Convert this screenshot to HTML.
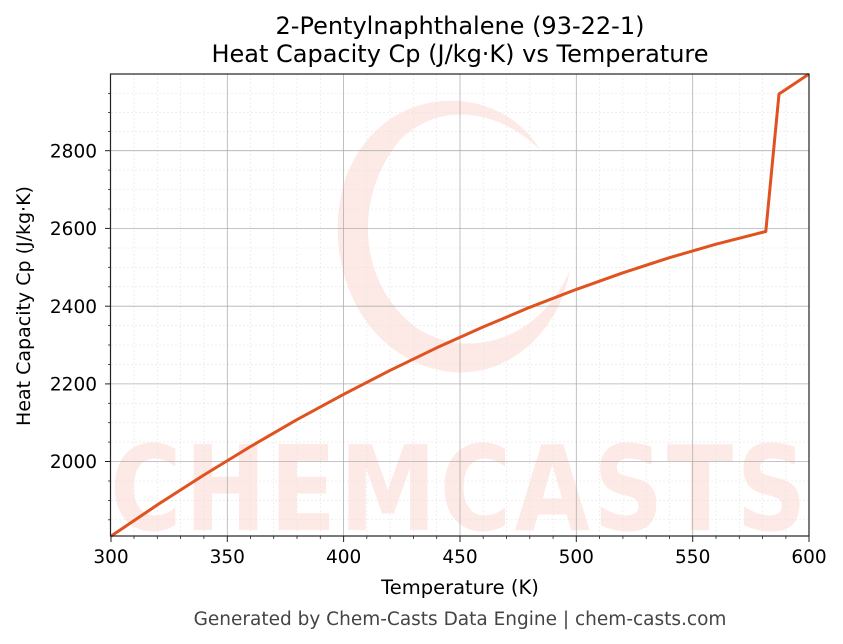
<!DOCTYPE html>
<html><head><meta charset="utf-8"><style>
html,body{margin:0;padding:0;background:#fff;}
svg{display:block;font-family:"DejaVu Sans","Liberation Sans",sans-serif;}
</style></head><body>
<svg width="843" height="644" viewBox="0 0 843 644" xmlns="http://www.w3.org/2000/svg">
<rect width="843" height="644" fill="#fff"/>
<!-- watermark -->
<g opacity="0.13" fill="#f06040">
<path d="M540,150 C500,80 380,80 345,180 C320,260 360,360 450,372 C510,378 560,330 570,270 C540,340 470,360 420,330 C360,290 350,200 400,140 C440,100 500,110 540,150Z"/>
<text x="460" y="530" text-anchor="middle" font-size="118" font-weight="bold" letter-spacing="4" textLength="700" lengthAdjust="spacingAndGlyphs">CHEMCASTS</text>
</g>
<!-- minor grid -->
<g stroke="#e4e4e4" stroke-width="0.6" stroke-dasharray="2,2">
<line x1="134" y1="74" x2="134" y2="536"/><line x1="157.3" y1="74" x2="157.3" y2="536"/><line x1="180.6" y1="74" x2="180.6" y2="536"/><line x1="203.9" y1="74" x2="203.9" y2="536"/>
<line x1="250.4" y1="74" x2="250.4" y2="536"/><line x1="273.7" y1="74" x2="273.7" y2="536"/><line x1="297" y1="74" x2="297" y2="536"/><line x1="320.3" y1="74" x2="320.3" y2="536"/>
<line x1="366.8" y1="74" x2="366.8" y2="536"/><line x1="390.1" y1="74" x2="390.1" y2="536"/><line x1="413.4" y1="74" x2="413.4" y2="536"/><line x1="436.7" y1="74" x2="436.7" y2="536"/>
<line x1="483.2" y1="74" x2="483.2" y2="536"/><line x1="506.5" y1="74" x2="506.5" y2="536"/><line x1="529.8" y1="74" x2="529.8" y2="536"/><line x1="553.1" y1="74" x2="553.1" y2="536"/>
<line x1="599.6" y1="74" x2="599.6" y2="536"/><line x1="622.9" y1="74" x2="622.9" y2="536"/><line x1="646.2" y1="74" x2="646.2" y2="536"/><line x1="669.5" y1="74" x2="669.5" y2="536"/>
<line x1="716" y1="74" x2="716" y2="536"/><line x1="739.3" y1="74" x2="739.3" y2="536"/><line x1="762.6" y1="74" x2="762.6" y2="536"/><line x1="785.9" y1="74" x2="785.9" y2="536"/>
<line x1="111" y1="93.5" x2="809" y2="93.5"/><line x1="111" y1="112.6" x2="809" y2="112.6"/><line x1="111" y1="131.6" x2="809" y2="131.6"/>
<line x1="111" y1="170.1" x2="809" y2="170.1"/><line x1="111" y1="189.5" x2="809" y2="189.5"/><line x1="111" y1="209" x2="809" y2="209"/>
<line x1="111" y1="248" x2="809" y2="248"/><line x1="111" y1="267.3" x2="809" y2="267.3"/><line x1="111" y1="286.8" x2="809" y2="286.8"/>
<line x1="111" y1="325.6" x2="809" y2="325.6"/><line x1="111" y1="345" x2="809" y2="345"/><line x1="111" y1="364.4" x2="809" y2="364.4"/>
<line x1="111" y1="403.3" x2="809" y2="403.3"/><line x1="111" y1="422.7" x2="809" y2="422.7"/><line x1="111" y1="442.1" x2="809" y2="442.1"/>
<line x1="111" y1="481" x2="809" y2="481"/><line x1="111" y1="500.4" x2="809" y2="500.4"/><line x1="111" y1="519.8" x2="809" y2="519.8"/>
</g>
<!-- major grid -->
<g stroke="#b0b0b0" stroke-width="0.8">
<line x1="227.3" y1="74" x2="227.3" y2="536"/><line x1="343.6" y1="74" x2="343.6" y2="536"/><line x1="460" y1="74" x2="460" y2="536"/><line x1="576.3" y1="74" x2="576.3" y2="536"/><line x1="692.7" y1="74" x2="692.7" y2="536"/>
<line x1="111" y1="150.7" x2="809" y2="150.7"/><line x1="111" y1="228.4" x2="809" y2="228.4"/><line x1="111" y1="306.2" x2="809" y2="306.2"/><line x1="111" y1="383.9" x2="809" y2="383.9"/><line x1="111" y1="461.5" x2="809" y2="461.5"/>
</g>
<!-- curve -->
<polyline fill="none" stroke="#e0521f" stroke-width="3" stroke-linejoin="round" points="111,536.1 157.5,504.8 204.1,474.9 250.6,446.5 297.1,419.6 343.7,394.3 390.2,370.3 436.7,347.8 483.3,326.9 529.8,307.3 576.3,289.4 622.9,272.8 669.4,257.7 716,244.2 765.8,231.5 779,94 809,74"/>
<!-- axes -->
<rect x="110.5" y="74" width="698.5" height="462" fill="none" stroke="#222" stroke-width="1.2"/>
<g stroke="#222" stroke-width="1">
<line x1="111" y1="536" x2="111" y2="542"/><line x1="227.3" y1="536" x2="227.3" y2="542"/><line x1="343.6" y1="536" x2="343.6" y2="542"/><line x1="460" y1="536" x2="460" y2="542"/><line x1="576.3" y1="536" x2="576.3" y2="542"/><line x1="692.7" y1="536" x2="692.7" y2="542"/><line x1="809" y1="536" x2="809" y2="542"/>
<line x1="105" y1="150.7" x2="111" y2="150.7"/><line x1="105" y1="228.4" x2="111" y2="228.4"/><line x1="105" y1="306.2" x2="111" y2="306.2"/><line x1="105" y1="383.9" x2="111" y2="383.9"/><line x1="105" y1="461.5" x2="111" y2="461.5"/>
</g>
<g stroke="#222" stroke-width="0.8">
<line x1="134" y1="536" x2="134" y2="539"/><line x1="157.3" y1="536" x2="157.3" y2="539"/><line x1="180.6" y1="536" x2="180.6" y2="539"/><line x1="203.9" y1="536" x2="203.9" y2="539"/>
<line x1="250.4" y1="536" x2="250.4" y2="539"/><line x1="273.7" y1="536" x2="273.7" y2="539"/><line x1="297" y1="536" x2="297" y2="539"/><line x1="320.3" y1="536" x2="320.3" y2="539"/>
<line x1="366.8" y1="536" x2="366.8" y2="539"/><line x1="390.1" y1="536" x2="390.1" y2="539"/><line x1="413.4" y1="536" x2="413.4" y2="539"/><line x1="436.7" y1="536" x2="436.7" y2="539"/>
<line x1="483.2" y1="536" x2="483.2" y2="539"/><line x1="506.5" y1="536" x2="506.5" y2="539"/><line x1="529.8" y1="536" x2="529.8" y2="539"/><line x1="553.1" y1="536" x2="553.1" y2="539"/>
<line x1="599.6" y1="536" x2="599.6" y2="539"/><line x1="622.9" y1="536" x2="622.9" y2="539"/><line x1="646.2" y1="536" x2="646.2" y2="539"/><line x1="669.5" y1="536" x2="669.5" y2="539"/>
<line x1="716" y1="536" x2="716" y2="539"/><line x1="739.3" y1="536" x2="739.3" y2="539"/><line x1="762.6" y1="536" x2="762.6" y2="539"/><line x1="785.9" y1="536" x2="785.9" y2="539"/>
<line x1="108" y1="93.5" x2="111" y2="93.5"/><line x1="108" y1="112.6" x2="111" y2="112.6"/><line x1="108" y1="131.6" x2="111" y2="131.6"/>
<line x1="108" y1="170.1" x2="111" y2="170.1"/><line x1="108" y1="189.5" x2="111" y2="189.5"/><line x1="108" y1="209" x2="111" y2="209"/>
<line x1="108" y1="248" x2="111" y2="248"/><line x1="108" y1="267.3" x2="111" y2="267.3"/><line x1="108" y1="286.8" x2="111" y2="286.8"/>
<line x1="108" y1="325.6" x2="111" y2="325.6"/><line x1="108" y1="345" x2="111" y2="345"/><line x1="108" y1="364.4" x2="111" y2="364.4"/>
<line x1="108" y1="403.3" x2="111" y2="403.3"/><line x1="108" y1="422.7" x2="111" y2="422.7"/><line x1="108" y1="442.1" x2="111" y2="442.1"/>
<line x1="108" y1="481" x2="111" y2="481"/><line x1="108" y1="500.4" x2="111" y2="500.4"/><line x1="108" y1="519.8" x2="111" y2="519.8"/>
</g>
<g font-size="18.5" fill="#000" text-anchor="middle">
<text x="111" y="563">300</text><text x="227.3" y="563">350</text><text x="343.6" y="563">400</text><text x="460" y="563">450</text><text x="576.3" y="563">500</text><text x="692.7" y="563">550</text><text x="809" y="563">600</text>
</g>
<g font-size="18.5" fill="#000" text-anchor="end">
<text x="97" y="157.4">2800</text><text x="97" y="235.1">2600</text><text x="97" y="312.9">2400</text><text x="97" y="390.6">2200</text><text x="97" y="468.2">2000</text>
</g>
<text x="460" y="594" font-size="19.5" text-anchor="middle">Temperature (K)</text>
<text transform="translate(30,306) rotate(-90)" font-size="19" text-anchor="middle">Heat Capacity Cp (J/kg·K)</text>
<text x="460" y="34" font-size="24" text-anchor="middle">2-Pentylnaphthalene (93-22-1)</text>
<text x="460" y="62" font-size="24" text-anchor="middle">Heat Capacity Cp (J/kg·K) vs Temperature</text>
<text x="460" y="625" font-size="18.5" fill="#444" text-anchor="middle">Generated by Chem-Casts Data Engine | chem-casts.com</text>
</svg>
</body></html>
